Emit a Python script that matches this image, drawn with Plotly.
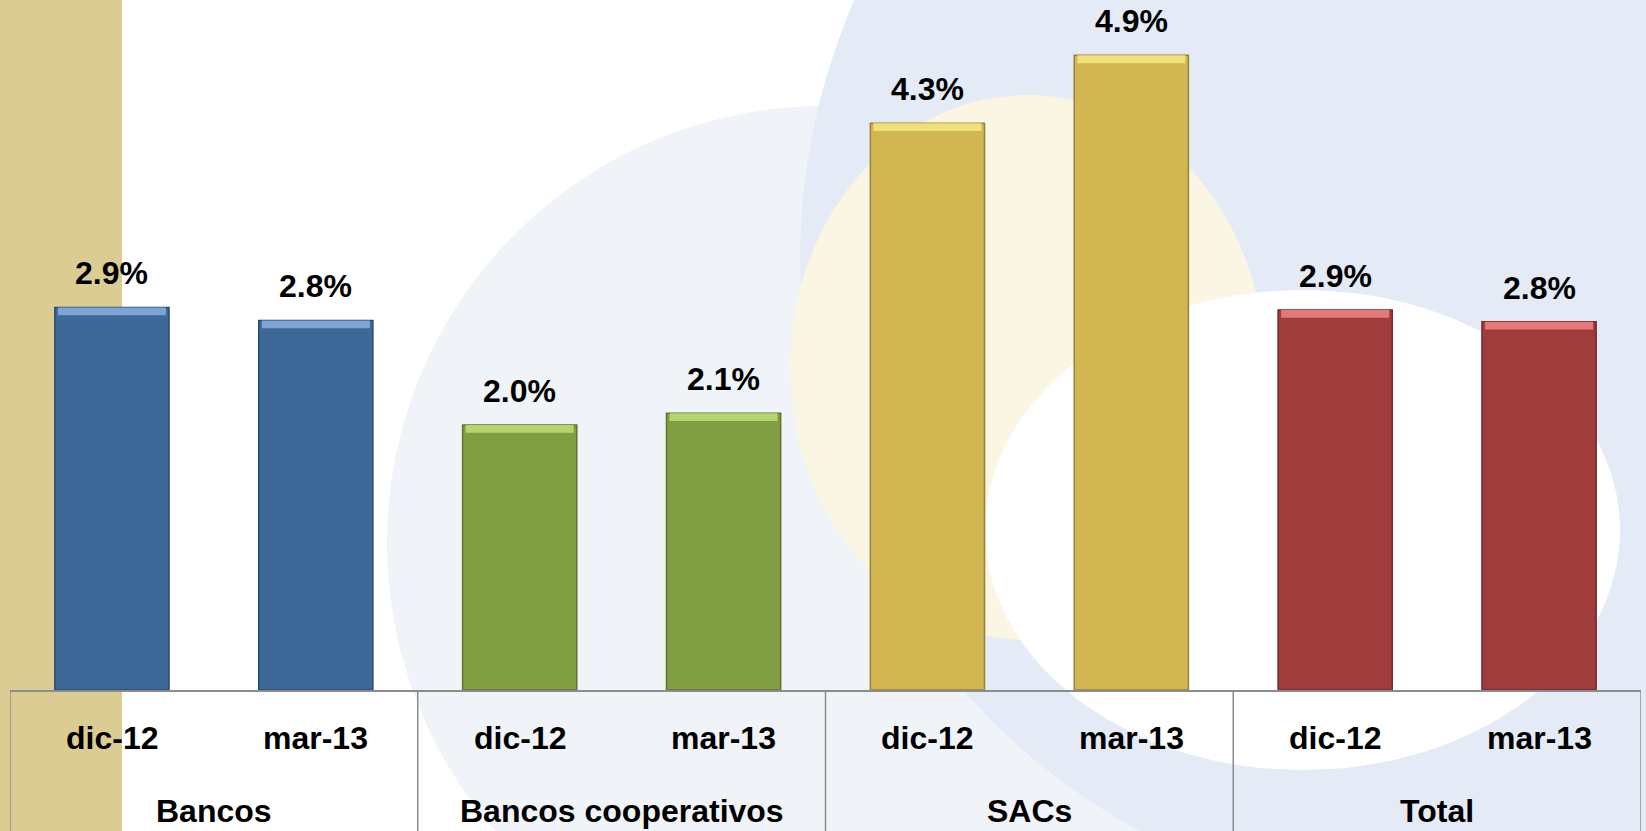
import plotly.graph_objects as go

# ---- data ----
groups = ["Bancos", "Bancos", "Bancos cooperativos", "Bancos cooperativos",
          "SACs", "SACs", "Total", "Total"]
periods = ["dic-12", "mar-13", "dic-12", "mar-13",
           "dic-12", "mar-13", "dic-12", "mar-13"]
values = [2.93, 2.83, 2.03, 2.12, 4.34, 4.86, 2.91, 2.82]

group_fill = {"Bancos": "#3E6898", "Bancos cooperativos": "#809F43",
              "SACs": "#D2B652", "Total": "#A13C3C"}
group_edge = {"Bancos": "#2B4A6E", "Bancos cooperativos": "#5C7430",
              "SACs": "#97823A", "Total": "#732A2A"}
group_light = {"Bancos": "#7EA4D6", "Bancos cooperativos": "#B6D46C",
               "SACs": "#F0E07A", "Total": "#E27A7A"}

W, H = 1646, 831
ML, MR, MT, MB = 10, 5, 0, 141
PW, PH = W - ML - MR, H - MT - MB
FONT = "Liberation Sans, Arial, sans-serif"
LINE = "#8C8C8C"


def pxx(p):
    return (p - ML) / PW


def pxy(p):
    return (H - MB - p) / PH


fills = [group_fill[g] for g in groups]
edges = [group_edge[g] for g in groups]
lights = [group_light[g] for g in groups]

fig = go.Figure()
fig.add_trace(go.Bar(
    x=[groups, periods], y=values, width=0.56,
    marker=dict(color=fills, line=dict(color=edges, width=1.5)),
    hoverinfo="skip", showlegend=False,
))
band = 0.06
fig.add_trace(go.Bar(
    x=[groups, periods], y=[band] * len(values),
    base=[v - band for v in values], width=0.53,
    marker=dict(color=lights, line=dict(width=0)),
    hoverinfo="skip", showlegend=False,
))

lab_font = dict(family=FONT, size=32, color="black", weight="bold")

# value labels
for i, v in enumerate(values):
    fig.add_annotation(
        x=i, y=v, xref="x", yref="y", text=f"{v:.1f}%", showarrow=False,
        yanchor="bottom", yshift=14, font=lab_font,
    )

# category labels (two levels) and group dividers
for i, p in enumerate(periods):
    fig.add_annotation(x=i, y=pxy(738), xref="x", yref="paper", text=p,
                       showarrow=False, yanchor="middle", font=lab_font)

bounds = [-0.5]
uniq = []
for i, g in enumerate(groups):
    if not uniq or uniq[-1][0] != g:
        uniq.append([g, i, i])
        if i > 0:
            bounds.append(i - 0.5)
    else:
        uniq[-1][2] = i
bounds.append(len(groups) - 0.5)

for g, a, b in uniq:
    fig.add_annotation(x=(a + b) / 2, y=pxy(811), xref="x", yref="paper",
                       text=g, showarrow=False, yanchor="middle",
                       font=lab_font)
for xb in bounds:
    fig.add_shape(type="line", xref="x", yref="paper", x0=xb, x1=xb,
                  y0=pxy(H + 5), y1=0, line=dict(color=LINE, width=1.5))

# decorative background (pixel coordinates converted to paper)
bg = [
    ("circle", 824 - 437, 543 - 437, 824 + 437, 543 + 437, "#F0F3F8"),
    ("circle", 1450 - 650, 260 - 650, 1450 + 650, 260 + 650, "#E4EBF6"),
    ("circle", 790, 95, 1265, 640, "#FAF6E3"),
    ("circle", 985, 290, 1620, 770, "#FFFFFF"),
    ("rect", 0, 0, 122, H, "#DBCC94"),
]
for kind, x0, y0, x1, y1, col in bg:
    fig.add_shape(type=kind, xref="paper", yref="paper",
                  x0=pxx(x0), x1=pxx(x1), y0=pxy(y1), y1=pxy(y0),
                  fillcolor=col, line=dict(width=0), layer="below")

fig.update_layout(
    width=W, height=H, barmode="overlay",
    margin=dict(l=ML, r=MR, t=MT, b=MB),
    paper_bgcolor="white", plot_bgcolor="rgba(0,0,0,0)",
    font=dict(family=FONT),
    xaxis=dict(
        type="multicategory", range=[-0.5, 7.5], automargin=False,
        showline=True, linecolor=LINE, linewidth=1.5,
        showticklabels=False, showdividers=False,
        ticks="", showgrid=False, fixedrange=True,
    ),
    yaxis=dict(range=[0, 5.284], visible=False, showgrid=False,
               fixedrange=True),
)

fig.write_html("out.html",
               config={"displayModeBar": False},
               post_script="document.body.style.margin='0';"
                           "document.body.style.overflow='hidden';")
